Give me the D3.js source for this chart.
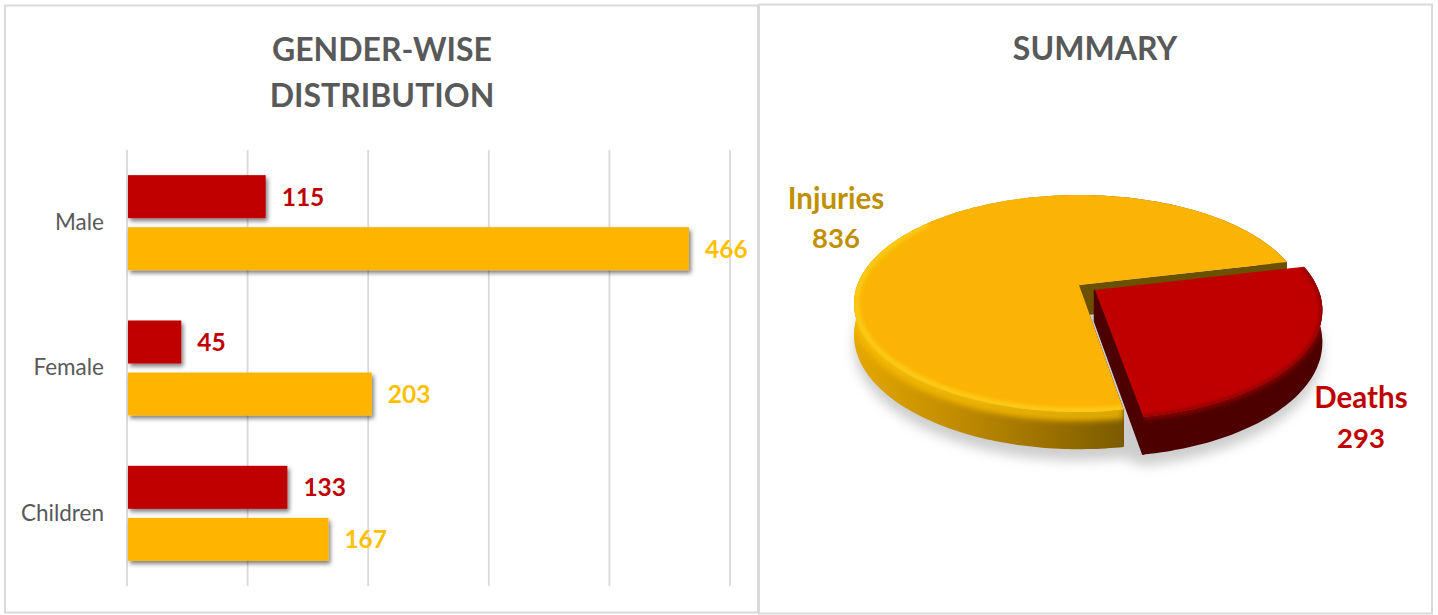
<!DOCTYPE html>
<html>
<head>
<meta charset="utf-8">
<script src="https://cdn.jsdelivr.net/npm/d3@7"></script>
<style>
  html, body { margin: 0; padding: 0; background: #fff; }
  svg { display: block; font-family: Lato, "Open Sans", sans-serif; }
</style>
</head>
<body>
<svg id="chart" width="1438" height="615"></svg>
<script>
// bar chart data
let categories = ["Male", "Female", "Children"];
let seriesNames = ["Deaths", "Injuries"];
let deaths = [115, 45, 133];
let injuries = [466, 203, 167];
let xTicks = [0, 100, 200, 300, 400, 500];

// pie data
let summaryLabels = ["Deaths", "Injuries"];
let summaryValues = [293, 836];

let colors = { Deaths: "#C00000", Injuries: "#FFB505" };
let labelColors = { Deaths: "#C00000", Injuries: "#FFC000" };
let pieLabelColors = { Deaths: "#C00000", Injuries: "#BF9000" };
let grey = "#595959", lineGrey = "#D9D9D9";

let svg = d3.select("#chart");
let defs = svg.append("defs");

let blur = (id, sd) => defs.append("filter").attr("id", id)
  .attr("x", "-20%").attr("y", "-20%").attr("width", "140%").attr("height", "140%")
  .append("feGaussianBlur").attr("stdDeviation", sd);
blur("blur2", 2);
blur("blur3", 3);
blur("blur6", 6);

let barShadow = defs.append("filter").attr("id", "barShadow")
  .attr("x", "-10%").attr("y", "-20%").attr("width", "120%").attr("height", "150%");
barShadow.append("feDropShadow").attr("dx", 2).attr("dy", 3).attr("stdDeviation", 2.2)
  .attr("flood-color", "#000").attr("flood-opacity", 0.5);

// panels
svg.append("rect").attr("x", 5).attr("y", 5.5).attr("width", 753).attr("height", 607)
  .attr("fill", "#fff").attr("stroke", lineGrey).attr("stroke-width", 2);
svg.append("rect").attr("x", 759).attr("y", 4.5).attr("width", 673).attr("height", 609)
  .attr("fill", "#fff").attr("stroke", lineGrey).attr("stroke-width", 2);

// titles
let title = (text, x, y) => svg.append("text").attr("x", x).attr("y", y)
  .attr("text-anchor", "middle").attr("font-size", 32).attr("font-weight", 700)
  .attr("fill", grey).text(text);
title("GENDER-WISE", 382, 61);
title("DISTRIBUTION", 382, 107);
title("SUMMARY", 1095, 60);

// ---- bars ----
let x = d3.scaleLinear().domain([0, 500]).range([127, 730]);
let y0 = d3.scaleBand().domain(categories).range([150, 586]).paddingInner(0.346).paddingOuter(0.173);
let yAxisScale = d3.scaleBand().domain(categories).range([150, 586]);
let y1 = d3.scaleBand().domain(seriesNames).range([0, y0.bandwidth()]).paddingInner(0.173);

svg.append("g").selectAll("line").data(xTicks).enter().append("line")
  .attr("x1", d => x(d)).attr("x2", d => x(d))
  .attr("y1", 150).attr("y2", 586)
  .attr("stroke", lineGrey).attr("stroke-width", 1.8);

let yAxis = svg.append("g").attr("transform", "translate(127,0)")
  .call(d3.axisLeft(yAxisScale).tickSize(0).tickPadding(23));
yAxis.select(".domain").remove();
yAxis.selectAll("text").attr("font-size", 22.5).attr("font-family", "Lato, sans-serif")
  .attr("fill", grey).attr("dy", "0.32em");

let rows = seriesNames.map((name, i) => ({ name, values: i === 0 ? deaths : injuries }));
rows.forEach(row => {
  let g = svg.append("g");
  g.selectAll("rect").data(row.values).enter().append("rect")
    .attr("x", x(0) + 1)
    .attr("y", (d, i) => y0(categories[i]) + y1(row.name))
    .attr("width", d => x(d) - x(0) - 1)
    .attr("height", y1.bandwidth())
    .attr("fill", colors[row.name])
    .attr("filter", "url(#barShadow)");
  g.selectAll("text").data(row.values).enter().append("text")
    .attr("x", d => x(d) + 16)
    .attr("y", (d, i) => y0(categories[i]) + y1(row.name) + y1.bandwidth() / 2 + 9)
    .attr("font-size", 24.5).attr("font-weight", 700)
    .attr("fill", labelColors[row.name])
    .text(d => d);
});

// ---- 3d pie ----
let deg = Math.PI / 180;
let pieCx = 1079, pieCy = 285, pieRx = 221.7, pieRy = 105.3, persp = 0.17, pieDepth = 31, explode = 0.086;

// flat disc coordinates to screen, with a bit of perspective
let project = (u, v, z) => {
  let w = 1 - persp * v;
  return [pieCx + pieRx * u / w, pieCy + (pieRy * v + pieDepth * z) / w];
};
let slices = d3.pie().sort(null).startAngle(76.9 * deg).endAngle(76.9 * deg + 2 * Math.PI)(summaryValues);

let rim = (slice, off, z, scale = 1, from = slice.startAngle, to = slice.endAngle) => {
  let n = Math.ceil((to - from) / (1 * deg));
  return d3.range(n + 1).map(i => {
    let t = from + (to - from) * i / n;
    return project(off[0] + scale * Math.sin(t), off[1] - scale * Math.cos(t), z);
  });
};
let poly = pts => "M" + pts.map(p => p[0].toFixed(1) + "," + p[1].toFixed(1)).join("L") + "Z";
let open = pts => "M" + pts.map(p => p[0].toFixed(1) + "," + p[1].toFixed(1)).join("L");

let deathsSlice = slices[0], injurySlice = slices[1];
let mid = (deathsSlice.startAngle + deathsSlice.endAngle) / 2;
let deathsOff = [explode * Math.sin(mid), -explode * Math.cos(mid)];
let noOff = [0, 0];

let wallGrad = defs.append("linearGradient").attr("id", "injWall")
  .attr("gradientUnits", "userSpaceOnUse").attr("x1", 853).attr("x2", 1124).attr("y1", 0).attr("y2", 0);
wallGrad.append("stop").attr("offset", 0).attr("stop-color", "#E5A800");
wallGrad.append("stop").attr("offset", 0.4).attr("stop-color", "#BE8A00");
wallGrad.append("stop").attr("offset", 1).attr("stop-color", "#7C5A00");

let pie = svg.append("g");

// soft ground shadow
let shadowPts = rim(injurySlice, noOff, 1.3).concat(rim(deathsSlice, deathsOff, 1.3));
pie.append("path").attr("d", poly(shadowPts))
  .attr("fill", "#BDBDBD").attr("opacity", 0.75).attr("filter", "url(#blur6)");

// faces, kept so the blurred bevels can be clipped to the slice
let injTopPath = poly([project(0, 0, 0)].concat(rim(injurySlice, noOff, 0)));
let injWallPath = poly(rim(injurySlice, noOff, 0).concat(rim(injurySlice, noOff, 1).reverse()));
let dTop = project(deathsOff[0], deathsOff[1], 0), dBottom = project(deathsOff[0], deathsOff[1], 1);
let dTopPath = poly([dTop].concat(rim(deathsSlice, deathsOff, 0)));
let dWallPath = poly(rim(deathsSlice, deathsOff, 0).concat(rim(deathsSlice, deathsOff, 1).reverse()));

let injClip = defs.append("clipPath").attr("id", "injClip");
injClip.append("path").attr("d", injTopPath);
injClip.append("path").attr("d", injWallPath);
let dClip = defs.append("clipPath").attr("id", "dClip");
dClip.append("path").attr("d", dTopPath);
dClip.append("path").attr("d", dWallPath);

// injuries slice
let innerTop = project(0, 0, 0), innerBottom = project(0, 0, 1);
let cut = injurySlice.endAngle, cut2 = injurySlice.startAngle;
let injRim = (t, z) => project(Math.sin(t), -Math.cos(t), z);
// dark cut faces behind the deaths slice
pie.append("path").attr("d", poly([innerTop, injRim(cut2, 0), injRim(cut2, 1), innerBottom]))
  .attr("fill", "#4D0000");
pie.append("path").attr("d", injWallPath).attr("fill", "url(#injWall)");
pie.append("path").attr("d", poly([innerTop, injRim(cut, 0), injRim(cut, 1), innerBottom]))
  .attr("fill", "#6B5000");
pie.append("path").attr("d", injTopPath).attr("fill", "#FBB405");
let injBevel = pie.append("g").attr("clip-path", "url(#injClip)");
injBevel.append("path")
  .attr("d", open(rim(injurySlice, noOff, 0.12, 1, injurySlice.startAngle, 300 * deg)))
  .attr("fill", "none").attr("stroke", "#F5B800").attr("stroke-width", 8).attr("filter", "url(#blur3)");
injBevel.append("path")
  .attr("d", open(rim(injurySlice, noOff, 0, 0.99, injurySlice.startAngle, 310 * deg)))
  .attr("fill", "none").attr("stroke", "#FFD21F").attr("stroke-width", 4).attr("filter", "url(#blur2)");

// deaths slice
let dRim = (t, z) => project(deathsOff[0] + Math.sin(t), deathsOff[1] - Math.cos(t), z);
pie.append("path").attr("d", dWallPath).attr("fill", "#4D0000");
pie.append("path")
  .attr("d", poly([dTop, dRim(deathsSlice.endAngle, 0), dRim(deathsSlice.endAngle, 1), dBottom]))
  .attr("fill", "#4D0000").attr("stroke", "#4D0000").attr("stroke-width", 2.5);
pie.append("path").attr("d", dTopPath).attr("fill", "#C00000");
pie.append("g").attr("clip-path", "url(#dClip)").append("path")
  .attr("d", open(rim(deathsSlice, deathsOff, 0.02)))
  .attr("fill", "none").attr("stroke", "#8A0000").attr("stroke-width", 5).attr("filter", "url(#blur2)");

// pie labels
let labelPos = { Deaths: [1361, 408, 448], Injuries: [836, 209, 248] };
summaryLabels.forEach((name, i) => {
  let p = labelPos[name];
  svg.append("text").attr("x", p[0]).attr("y", p[1])
    .attr("text-anchor", "middle").attr("font-size", 29.5).attr("font-weight", 700)
    .attr("fill", pieLabelColors[name]).text(name);
  svg.append("text").attr("x", p[0]).attr("y", p[2])
    .attr("text-anchor", "middle").attr("font-size", 27.5).attr("font-weight", 700)
    .attr("fill", pieLabelColors[name]).text(summaryValues[i]);
});
</script>
</body>
</html>
